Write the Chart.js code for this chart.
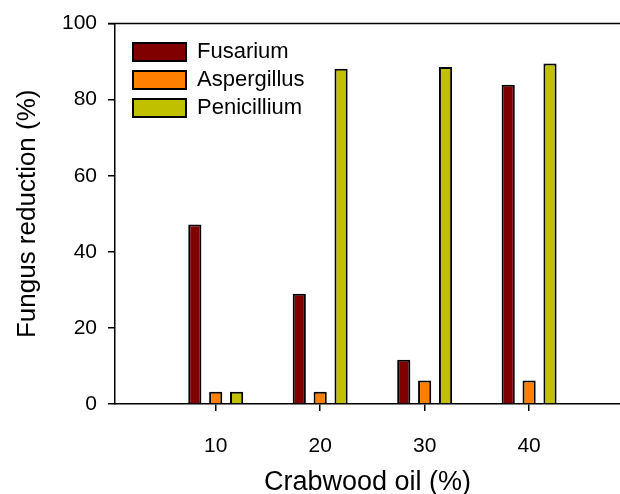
<!DOCTYPE html>
<html>
<head>
<meta charset="utf-8">
<script src="https://cdn.jsdelivr.net/npm/chart.js@4/dist/chart.umd.min.js"></script>
<style>
  html, body { margin: 0; padding: 0; background: #fff; overflow: hidden; }
  #wrap { width: 620px; height: 494px; }
</style>
</head>
<body>
<div id="wrap"><canvas id="c" width="620" height="494"></canvas></div>
<script>
// ---- data ----
const categories = [10, 20, 30, 40];
const fusarium = [47.2, 29.0, 11.6, 83.9];
const aspergillus = [3.2, 3.2, 6.2, 6.2];
const penicillium = [3.2, 88.1, 88.6, 89.5];
const seriesNames = ['Fusarium', 'Aspergillus', 'Penicillium'];
const xTicks = [10, 20, 30, 40];
const yTicks = [0, 20, 40, 60, 80, 100];

const FONT = "'Liberation Sans', Arial, Helvetica, sans-serif";
Chart.defaults.font.family = FONT;
Chart.defaults.color = '#000';

const pts = vals => categories.map((c, i) => ({ x: c, y: vals[i] }));

const topBorder = {
  id: 'topBorder',
  afterDraw(chart) {
    const { ctx, chartArea } = chart;
    ctx.save();
    ctx.strokeStyle = '#000';
    ctx.lineWidth = 1.5;
    ctx.beginPath();
    ctx.moveTo(chartArea.left - 7, chartArea.top);
    ctx.lineTo(chartArea.right, chartArea.top);
    ctx.stroke();
    ctx.restore();
  }
};

const legendShift = {
  id: 'legendShift',
  afterLayout(chart) {
    if (chart.legend) {
      chart.legend.left += 12;
      chart.legend.top += 35;
    }
  }
};

const barStyle = { borderColor: '#000', borderWidth: 2, categoryPercentage: 0.6, barPercentage: 0.63 };

new Chart(document.getElementById('c'), {
  type: 'bar',
  data: {
    datasets: [
      Object.assign({ label: seriesNames[0], data: pts(fusarium), backgroundColor: '#800000' }, barStyle),
      Object.assign({ label: seriesNames[1], data: pts(aspergillus), backgroundColor: '#FF8000' }, barStyle),
      Object.assign({ label: seriesNames[2], data: pts(penicillium), backgroundColor: '#C0C000' }, barStyle)
    ]
  },
  options: {
    responsive: false,
    animation: false,
    devicePixelRatio: 1,
    layout: { padding: { left: 0, top: 21, right: 0, bottom: 0 } },
    plugins: {
      legend: {
        position: 'chartArea',
        align: 'start',
        labels: {
          boxWidth: 53,
          boxHeight: 18,
          padding: 6,
          color: '#000',
          font: { size: 22, family: FONT }
        }
      },
      tooltip: { enabled: false }
    },
    scales: {
      x: {
        type: 'linear',
        offset: false,
        min: 0.36,
        max: 48.7,
        afterBuildTicks: s => { s.ticks = xTicks.map(v => ({ value: v })); },
        afterFit: s => { s.height = 90; },
        ticks: { font: { size: 21, family: FONT }, color: '#000', padding: 23, maxRotation: 0 },
        grid: { display: true, drawOnChartArea: false, drawTicks: true, tickLength: 7, color: '#000', lineWidth: 1.5, offset: false },
        border: { display: true, color: '#000', width: 1.5 },
        title: {
          display: true,
          text: 'Crabwood oil (%)',
          color: '#000',
          font: { size: 27, family: FONT, lineHeight: 1 },
          padding: { top: 0, bottom: -2 }
        }
      },
      y: {
        min: 0,
        max: 100,
        afterBuildTicks: s => { s.ticks = yTicks.map(v => ({ value: v })); },
        afterFit: s => { s.width = 115; },
        ticks: { font: { size: 21, family: FONT }, color: '#000', padding: 11 },
        grid: { display: true, drawOnChartArea: false, drawTicks: true, tickLength: 7, color: '#000', lineWidth: 1.5 },
        border: { display: true, color: '#000', width: 1.5 },
        title: {
          display: true,
          text: 'Fungus reduction (%)',
          color: '#000',
          font: { size: 26, family: FONT, lineHeight: 1 },
          padding: { top: 15, bottom: 0 }
        }
      }
    }
  },
  plugins: [topBorder, legendShift]
});
</script>
</body>
</html>
